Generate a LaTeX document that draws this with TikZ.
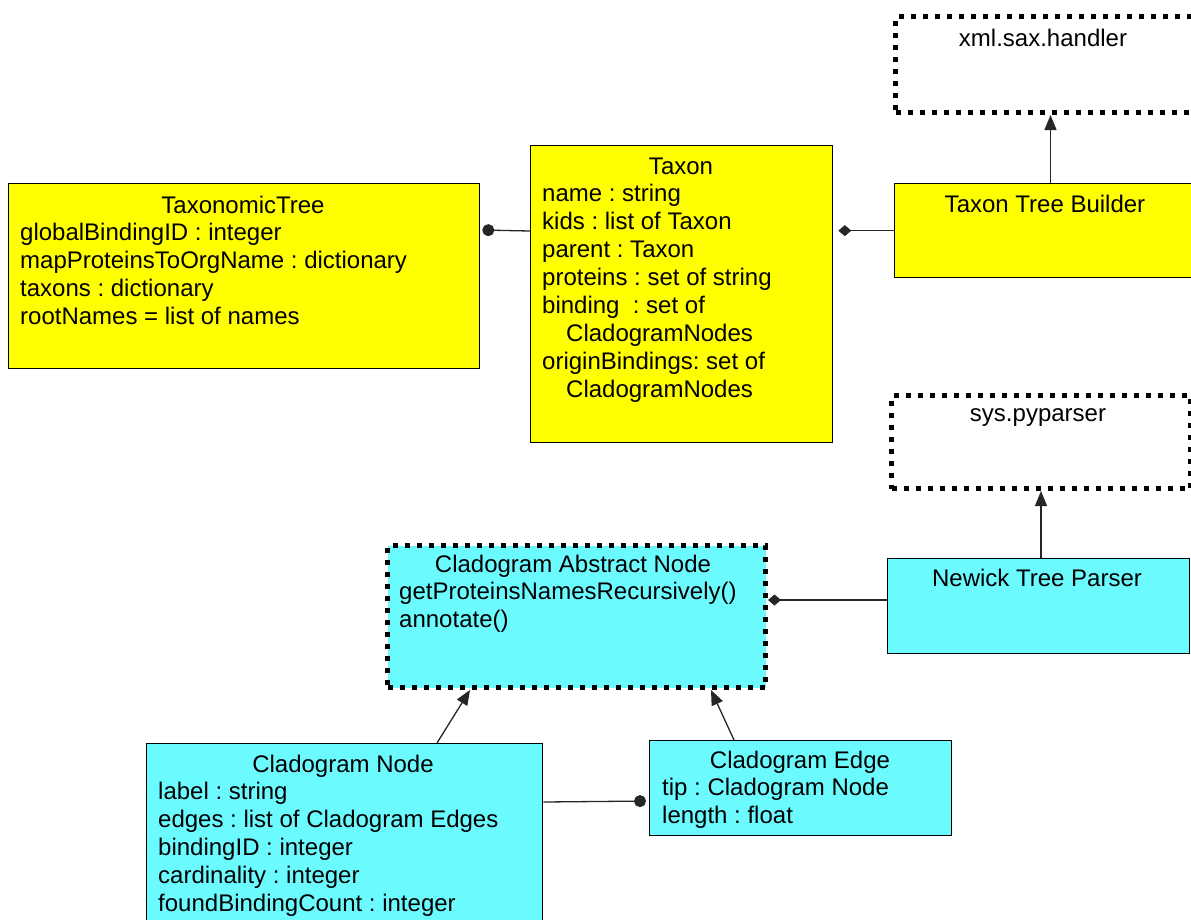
\documentclass[tikz,border=0pt]{standalone}
\usepackage{fontspec}
\setmainfont{Liberation Sans}
\usepackage{tikz}
\usetikzlibrary{arrows.meta}
\usetikzlibrary{positioning}
\frenchspacing
\definecolor{classyellow}{HTML}{FFFF00}
\definecolor{classcyan}{HTML}{6BFBFF}
\tikzset{
	classbox/.style={draw=black, line width=1.3pt, anchor=north west, inner sep=0pt},
	pkgbox/.style={draw=black, line width=5pt, dash pattern=on 5pt off 7pt, anchor=north west, inner sep=0pt},
	classname/.style={anchor=base, inner sep=0pt},
	members/.style={anchor=north west, align=left, inner sep=0pt},
	inherit/.style={draw=black!85, line width=1.3pt, -{Triangle[length=15pt,width=12pt]}},
	composition/.style={draw=black!85, line width=1.3pt},
	dotend/.tip={Circle[length=12pt]},
	diamondend/.tip={Diamond[length=13pt,width=11pt]},
}

\begin{document}
\begin{tikzpicture}[x=1pt, y=-1pt, font=\fontsize{24}{28}\selectfont]
	\path[use as bounding box, clip] (0,0) rectangle (1191,919);
	% boxes
	\node[classbox, fill=classyellow, minimum width=471pt, minimum height=185pt] (tree) at (8,183) {};
	\node[classbox, fill=classyellow, minimum width=302pt, minimum height=297pt] (taxon) at (530,145) {};
	\node[classbox, fill=classyellow, minimum width=310pt, minimum height=94pt] (builder) at (894,183) {};
	\node[pkgbox, minimum width=310pt, minimum height=96pt] (xmlsax) at (893,14) {};
	\node[pkgbox, minimum width=299pt, minimum height=93pt] (pyparser) at (889,393) {};
	\node[classbox, fill=classcyan, minimum width=302pt, minimum height=95pt] (newick) at (887,558) {};
	\node[pkgbox, fill=classcyan, minimum width=378pt, minimum height=142pt] (abstract) at (385,543) {};
	\node[classbox, fill=classcyan, minimum width=396pt, minimum height=200pt] (cnode) at (146,743) {};
	\node[classbox, fill=classcyan, minimum width=302pt, minimum height=95pt] (cedge) at (649,740) {};
	% texts
	\node[classname] (tree-name) at (243,213) {TaxonomicTree};
	\node[members] (tree-members) at (20,221) {\strut globalBindingID : integer\\
		mapProteinsToOrgName : dictionary\\ taxons : dictionary\\ rootNames = list of names};
	\node[classname] (taxon-name) at (681,174) {Taxon};
	\node[members] (taxon-members) at (542,182) {\strut name : string\\ kids : list of Taxon\\
		parent : Taxon\\ proteins : set of string\\ binding~ : set of\\ \hspace*{24pt}CladogramNodes\\
		originBindings: set of\\ \hspace*{24pt}CladogramNodes};
	\node[classname] (builder-name) at (1045,212) {Taxon Tree Builder};
	\node[classname] (xmlsax-name) at (1043,46) {xml.sax.handler};
	\node[classname] (pyparser-name) at (1038,421) {sys.pyparser};
	\node[classname] (newick-name) at (1037,586) {Newick Tree Parser};
	\node[classname] (abstract-name) at (573,572) {Cladogram Abstract Node};
	\node[members] (abstract-members) at (399,580) {\strut getProteinsNamesRecursively()\\ annotate()};
	\node[classname] (cnode-name) at (343,772) {Cladogram Node};
	\node[members] (cnode-members) at (158,780) {\strut label : string\\
		edges : list of Cladogram Edges\\ bindingID : integer\\ cardinality : integer\\
		foundBindingCount : integer};
	\node[classname] (cedge-name) at (800,768) {Cladogram Edge};
	\node[members] (cedge-members) at (662,776) {\strut tip : Cladogram Node\\ length : float};
	% connectors
	\draw[composition, {dotend}-, shorten <=2pt] ([yshift=-47pt]tree.north east) -- ([yshift=-86pt]taxon.north west);
	\draw[composition, {diamondend}-, shorten <=5pt] (builder.west -| taxon.east) -- (builder.west);
	\draw[inherit] (xmlsax.south |- builder.north) -- (xmlsax.south);
	\draw[inherit] (pyparser.south |- newick.north) -- (pyparser.south);
	\draw[composition, {diamondend}-] ([yshift=-42pt]newick.north west -| abstract.east) -- ([yshift=-42pt]newick.north west);
	\draw[inherit] ([xshift=291pt]cnode.north west) -- ([xshift=85pt]abstract.south west);
	\draw[inherit] ([xshift=85pt]cedge.north west) -- ([xshift=-57pt]abstract.south east);
	\draw[composition, -{dotend}, shorten >=3pt] ([yshift=-59pt]cnode.north east) -- ([yshift=-61pt]cedge.north west);
\end{tikzpicture}
\end{document}
